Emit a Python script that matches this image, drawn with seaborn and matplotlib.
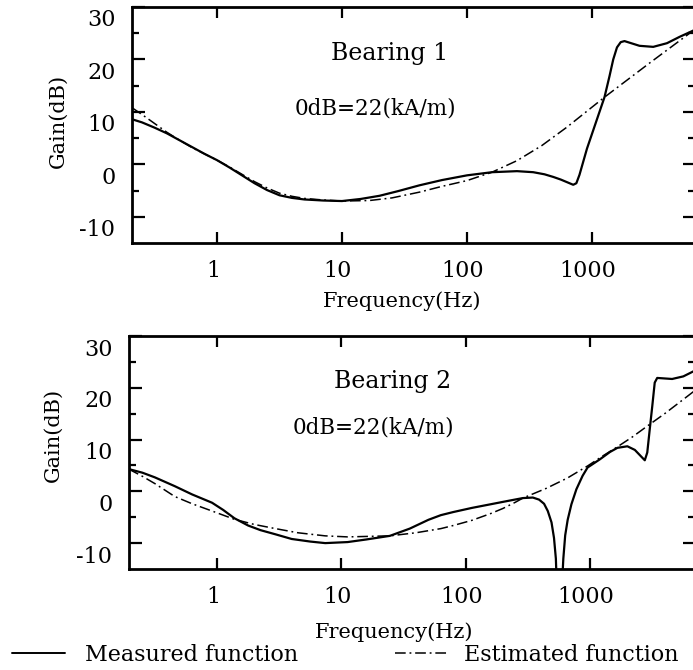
import numpy as np
import pandas as pd
import matplotlib
matplotlib.use("Agg")
import matplotlib.pyplot as plt
from matplotlib.transforms import ScaledTranslation
from matplotlib.lines import Line2D
import seaborn as sns

# ---- data: gain (dB) versus log10 frequency (Hz) ----
b1_meas_logf = [-0.68, -0.60, -0.50, -0.40, -0.30, -0.20, -0.10, 0.00, 0.10, 0.20,
                0.30, 0.40, 0.50, 0.60, 0.70, 0.85, 1.00, 1.15, 1.30, 1.45,
                1.62, 1.80, 2.00, 2.20, 2.40, 2.53, 2.62, 2.69, 2.75, 2.80,
                2.85, 2.875, 2.90, 2.93, 2.96, 3.01, 3.06, 3.10, 3.14, 3.17,
                3.20, 3.23, 3.26, 3.30, 3.38, 3.49, 3.60, 3.70, 3.81, 3.83]
b1_meas_db = [8.6, 8.0, 7.0, 5.9, 4.6, 3.3, 2.0, 0.8, -0.6, -2.1,
              -3.6, -4.9, -5.9, -6.4, -6.7, -6.9, -7.0, -6.6, -6.0, -5.1,
              -4.0, -3.0, -2.1, -1.5, -1.3, -1.5, -1.9, -2.4, -2.9, -3.4,
              -3.9, -3.6, -2.0, 0.5, 3.0, 6.5, 10.0, 12.8, 16.8, 20.0,
              22.3, 23.3, 23.5, 23.2, 22.6, 22.4, 23.1, 24.3, 25.5, 25.8]

b1_est_logf = [-0.68, -0.60, -0.50, -0.40, -0.30, -0.20, -0.10, 0.00, 0.10, 0.20,
               0.30, 0.40, 0.50, 0.60, 0.70, 0.85, 1.00, 1.22, 1.40, 1.62,
               1.80, 2.00, 2.20, 2.40, 2.60, 2.80, 3.10, 3.46, 3.81, 3.83]
b1_est_db = [10.8, 9.5, 7.8, 6.1, 4.6, 3.2, 2.0, 0.8, -0.5, -1.9,
             -3.3, -4.5, -5.5, -6.1, -6.5, -6.8, -7.0, -6.9, -6.4, -5.3,
             -4.2, -3.1, -1.5, 0.7, 3.6, 7.1, 12.8, 19.3, 25.5, 25.8]

b2_meas_logf = [-0.71, -0.60, -0.50, -0.34, -0.20, -0.04, 0.05, 0.14, 0.25, 0.35,
                0.47, 0.60, 0.75, 0.87, 1.05, 1.20, 1.39, 1.55, 1.70, 1.80,
                1.90, 2.05, 2.20, 2.35, 2.46, 2.54, 2.59, 2.63, 2.66, 2.69,
                2.71, 2.725, 2.735, 2.77, 2.785, 2.80, 2.82, 2.85, 2.89, 2.94,
                2.98, 3.08, 3.16, 3.22, 3.30, 3.36, 3.40, 3.44, 3.46, 3.48,
                3.50, 3.52, 3.54, 3.60, 3.66, 3.75, 3.85]
b2_meas_db = [4.3, 3.6, 2.7, 1.0, -0.6, -2.2, -3.6, -5.2, -6.6, -7.5,
              -8.3, -9.2, -9.7, -10.0, -9.8, -9.3, -8.6, -7.2, -5.5, -4.6,
              -4.0, -3.2, -2.5, -1.8, -1.3, -1.2, -1.6, -2.4, -3.8, -6.0,
              -9.0, -13.0, -20.0, -20.0, -13.0, -8.5, -5.5, -2.5, 0.4, 3.0,
              4.6, 6.2, 7.6, 8.4, 8.7, 8.0, 7.0, 6.0, 7.5, 12.0,
              16.4, 21.0, 21.9, 21.8, 21.7, 22.2, 23.4]

b2_est_logf = [-0.71, -0.60, -0.50, -0.34, -0.20, -0.04, 0.14, 0.30, 0.47, 0.65,
               0.87, 1.05, 1.39, 1.60, 1.80, 1.90, 2.05, 2.20, 2.30, 2.40,
               2.46, 2.54, 2.65, 2.82, 2.98, 3.10, 3.22, 3.34, 3.46, 3.60,
               3.72, 3.85]
b2_est_db = [4.3, 2.9, 1.5, -1.0, -2.4, -3.8, -5.4, -6.4, -7.2, -8.0,
             -8.6, -8.8, -8.6, -8.0, -7.2, -6.6, -5.6, -4.3, -3.3, -2.1,
             -1.3, -0.5, 0.6, 2.6, 4.9, 6.8, 8.6, 10.5, 12.6, 15.0,
             17.2, 19.6]

x_ticks = [1, 10, 100, 1000]
x_tick_labels = ["1", "10", "100", "1000"]
y_major = [-10, 0, 10, 20, 30]
y_minor = [-5, 5, 15, 25]
panel_titles = ["Bearing 1", "Bearing 2"]
ref_text = "0dB=22(kA/m)"

sns.set_theme(style="ticks")
plt.rcParams["font.family"] = ["DejaVu Serif"]
plt.rcParams["axes.linewidth"] = 2.0
for key in ("text.color", "axes.labelcolor", "xtick.color", "ytick.color",
            "axes.edgecolor"):
    plt.rcParams[key] = "black"

W, H = 693, 670
fig = plt.figure(figsize=(W / 100, H / 100), dpi=100)
fig.patch.set_facecolor("white")

# axes boxes in pixels: left, top, right, bottom
boxes = [(132, 7, 695, 243), (129, 336, 695, 569)]
xlims = [(0.209, 6670), (0.196, 6980)]
series = [
    (b1_meas_logf, b1_meas_db, b1_est_logf, b1_est_db),
    (b2_meas_logf, b2_meas_db, b2_est_logf, b2_est_db),
]
title_pos = [((0.458, 0.805), (0.432, 0.572)), ((0.466, 0.803), (0.431, 0.609))]
xlabel_pos = [(0.48, -0.203), (0.468, -0.227)]
ylabel_pos = [(-0.115, 0.517), (-0.118, 0.575)]

est_style = (0, (7, 2.5, 1.2, 2.5))
axes = []
for i, (l, t, r, b) in enumerate(boxes):
    ax = fig.add_axes([l / W, 1 - b / H, (r - l) / W, (b - t) / H])
    axes.append(ax)
    mlf, mdb, elf, edb = series[i]
    meas = pd.DataFrame({"freq": 10 ** np.array(mlf), "gain": mdb})
    est = pd.DataFrame({"freq": 10 ** np.array(elf), "gain": edb})
    sns.lineplot(data=meas, x="freq", y="gain", ax=ax, color="black",
                 linewidth=1.6, estimator=None, sort=False)
    sns.lineplot(data=est, x="freq", y="gain", ax=ax, color="black",
                 linewidth=1.1, linestyle=est_style, estimator=None, sort=False)
    ax.set_xscale("log")
    ax.set_xlim(*xlims[i])
    ax.set_ylim(-15, 30)
    ax.set_xticks(x_ticks)
    ax.set_xticklabels(x_tick_labels)
    ax.xaxis.set_minor_locator(matplotlib.ticker.NullLocator())
    ax.set_yticks(y_major)
    ax.set_yticklabels([str(v) for v in y_major])
    ax.set_yticks(y_minor, minor=True)
    for s in ax.spines.values():
        s.set_linewidth(2.0)
        s.set_color("black")
    ax.tick_params(axis="both", which="both", direction="in", top=True,
                   right=True, color="black", width=1.6)
    ax.tick_params(axis="y", which="major", length=9, pad=12, labelsize=16)
    ax.tick_params(axis="y", which="minor", length=5)
    ax.tick_params(axis="x", which="major", length=8, pad=12, labelsize=16)
    ax.set_xlabel("Frequency(Hz)", fontsize=15, color="black")
    ax.set_ylabel("Gain(dB)", fontsize=15, color="black")
    ax.xaxis.set_label_coords(*xlabel_pos[i])
    ax.yaxis.set_label_coords(*ylabel_pos[i])
    (tx, ty), (rx, ry) = title_pos[i]
    ax.text(tx, ty, panel_titles[i], transform=ax.transAxes, ha="center",
            va="center", fontsize=17, color="black")
    ax.text(rx, ry, ref_text, transform=ax.transAxes, ha="center",
            va="center", fontsize=15.5, color="black")
    # shift tick labels: y labels sit a little below their ticks
    dy = ScaledTranslation(0, -11 / 100, fig.dpi_scale_trans)
    for lab in ax.get_yticklabels():
        lab.set_transform(lab.get_transform() + dy)
    dx = ScaledTranslation(-4 / 100, 0, fig.dpi_scale_trans)
    for lab in ax.get_xticklabels():
        lab.set_transform(lab.get_transform() + dx)

h_meas = Line2D([], [], color="black", linewidth=1.4)
h_est = Line2D([], [], color="black", linewidth=1.1, linestyle=est_style)
leg1 = fig.legend([h_meas], ["Measured function"], loc="center left",
                  bbox_to_anchor=(12 / W, 1 - 655 / H), frameon=False,
                  fontsize=16, handlelength=2.4, handletextpad=0.9,
                  borderpad=0, borderaxespad=0, labelcolor="black")
leg2 = fig.legend([h_est], ["Estimated function"], loc="center left",
                  bbox_to_anchor=(395 / W, 1 - 655 / H), frameon=False,
                  fontsize=16, handlelength=2.4, handletextpad=0.7,
                  borderpad=0, borderaxespad=0, labelcolor="black")

fig.savefig("out.png", dpi=100, facecolor="white")
